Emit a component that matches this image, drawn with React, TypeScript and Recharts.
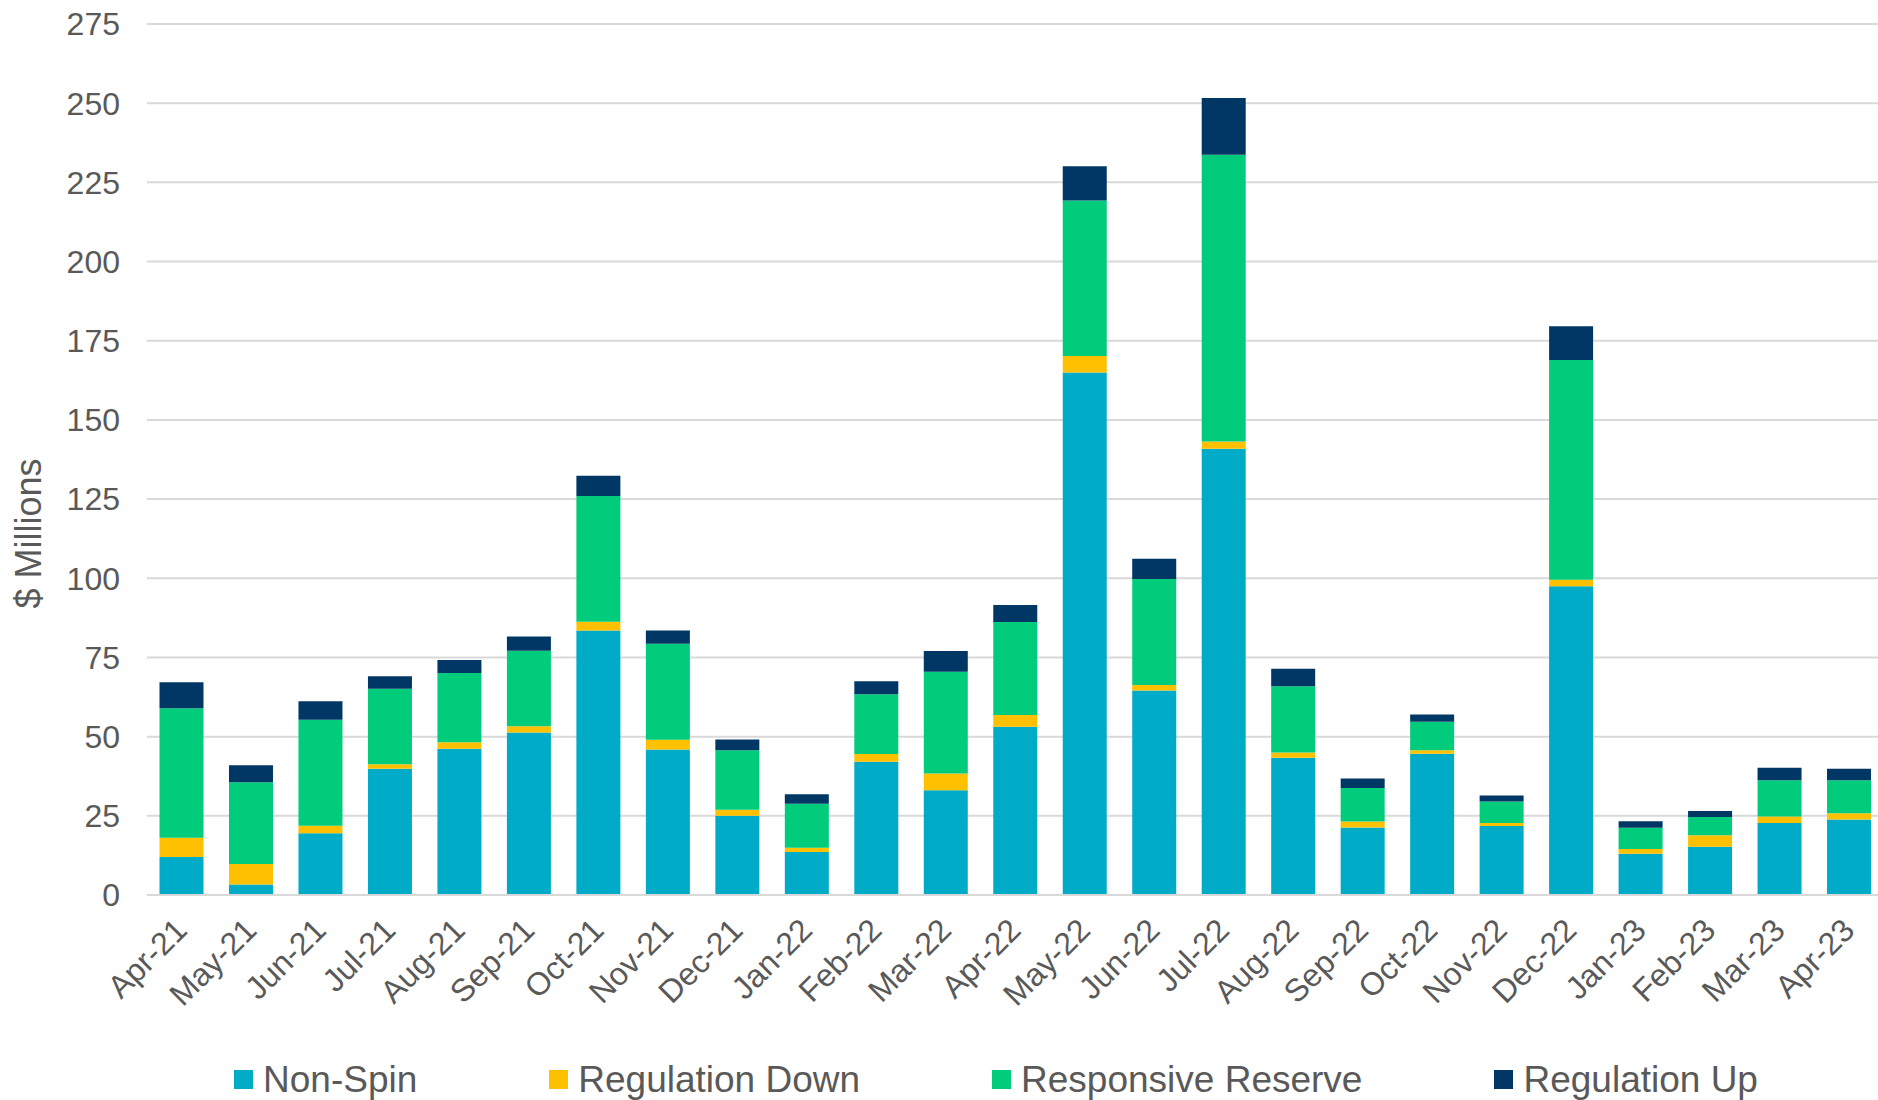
import { BarChart, Bar, XAxis, YAxis, CartesianGrid, Legend } from "recharts";

const months = [
  "Apr-21", "May-21", "Jun-21", "Jul-21", "Aug-21", "Sep-21", "Oct-21", "Nov-21", "Dec-21",
  "Jan-22", "Feb-22", "Mar-22", "Apr-22", "May-22", "Jun-22", "Jul-22", "Aug-22", "Sep-22",
  "Oct-22", "Nov-22", "Dec-22", "Jan-23", "Feb-23", "Mar-23", "Apr-23",
];

const nonSpin = [
  12.0, 3.3, 19.5, 39.9, 46.2, 51.3, 83.5, 45.9, 25.0,
  13.6, 42.1, 33.1, 53.1, 165.0, 64.6, 140.9, 43.3, 21.3,
  44.6, 21.8, 97.5, 13.0, 15.2, 22.7, 23.8,
];
const regulationDown = [
  6.1, 6.5, 2.4, 1.4, 2.0, 2.0, 2.8, 3.1, 1.9,
  1.3, 2.4, 5.3, 3.7, 5.2, 1.7, 2.3, 1.7, 1.9,
  1.1, 0.9, 2.0, 1.5, 3.7, 2.1, 2.0,
];
const responsiveReserve = [
  40.9, 25.8, 33.4, 23.8, 21.9, 23.8, 39.7, 30.3, 18.8,
  13.9, 18.9, 32.1, 29.4, 49.1, 33.5, 90.5, 20.9, 10.6,
  9.0, 6.8, 69.4, 6.7, 5.7, 11.4, 10.4,
];
const regulationUp = [
  8.2, 5.4, 5.9, 4.0, 4.1, 4.5, 6.4, 4.2, 3.4,
  3.0, 4.1, 6.5, 5.4, 10.8, 6.4, 17.9, 5.5, 3.0,
  2.3, 1.9, 10.7, 2.1, 1.9, 4.0, 3.7,
];

const yTicks = [0, 25, 50, 75, 100, 125, 150, 175, 200, 225, 250, 275];

const series = [
  { key: "nonSpin", name: "Non-Spin", color: "#00ABC8" },
  { key: "regulationDown", name: "Regulation Down", color: "#FFC000" },
  { key: "responsiveReserve", name: "Responsive Reserve", color: "#00CC7C" },
  { key: "regulationUp", name: "Regulation Up", color: "#003764" },
];

const data = months.map((m, i) => ({
  month: m,
  nonSpin: nonSpin[i],
  regulationDown: regulationDown[i],
  responsiveReserve: responsiveReserve[i],
  regulationUp: regulationUp[i],
}));

const FONT = "'Liberation Sans', Arial, sans-serif";
const TEXT = "#595959";

// rotated month labels, top-right corner sits just under the axis
function MonthTick(props: any) {
  const { x, y, payload } = props;
  return (
    <g transform={`translate(${x - 9},${y + 21})`}>
      <text
        textAnchor="end"
        transform="rotate(-45)"
        dy="0.71em"
        fill={TEXT}
        fontSize={32}
        fontFamily={FONT}
      >
        {payload.value}
      </text>
    </g>
  );
}

function LegendRow() {
  return (
    <div
      style={{
        height: 65,
        display: "flex",
        alignItems: "center",
        paddingLeft: 234,
        paddingTop: 24,
        boxSizing: "border-box",
        fontFamily: FONT,
        fontSize: 37,
        lineHeight: "40px",
        color: TEXT,
        whiteSpace: "nowrap",
        width: 1878,
      }}
    >
      {series.map((s, i) => (
        <div
          key={s.key}
          style={{ display: "flex", alignItems: "center", flexShrink: 0, marginRight: i < series.length - 1 ? 132 : 0 }}
        >
          <span style={{ width: 19, height: 19, background: s.color, marginRight: 10, display: "inline-block", flexShrink: 0 }} />
          <span>{s.name}</span>
        </div>
      ))}
    </div>
  );
}

export default function App() {
  return (
    <div style={{ position: "absolute", left: 0, top: 0, width: 1878, height: 1100, overflow: "hidden", background: "#fff" }}>
      <BarChart
        width={1884}
        height={1100}
        data={data}
        margin={{ top: 24, right: 0, left: 0, bottom: 0 }}
        barCategoryGap="18%"
      >
        <CartesianGrid vertical={false} stroke="#D9D9D9" strokeWidth={2} />
        <XAxis
          dataKey="month"
          height={140}
          tick={<MonthTick />}
          tickLine={false}
          tickSize={0}
          tickMargin={0}
          interval={0}
          axisLine={{ stroke: "#D9D9D9", strokeWidth: 2 }}
        />
        <YAxis
          width={147}
          domain={[0, 275]}
          ticks={yTicks}
          interval={0}
          axisLine={false}
          tickLine={false}
          tickSize={0}
          tickMargin={27}
          tick={{ fill: TEXT, fontSize: 32, fontFamily: FONT }}
          label={{
            content: (p: any) => {
              const vb = p.viewBox;
              const cx = vb.x + 28;
              const cy = vb.y + vb.height / 2 + 74;
              return (
                <text
                  x={cx}
                  y={cy}
                  transform={`rotate(-90, ${cx}, ${cy})`}
                  textAnchor="middle"
                  dominantBaseline="central"
                  fill={TEXT}
                  fontSize={36}
                  fontFamily={FONT}
                >
                  $ Millions
                </text>
              );
            },
          }}
        />
        <Legend
          verticalAlign="bottom"
          align="left"
          content={<LegendRow />}
          wrapperStyle={{ left: 0, width: 1878, overflow: "visible" }}
        />
        {series.map((s) => (
          <Bar
            key={s.key}
            dataKey={s.key}
            name={s.name}
            stackId="total"
            fill={s.color}
            isAnimationActive={false}
          />
        ))}
      </BarChart>
    </div>
  );
}
